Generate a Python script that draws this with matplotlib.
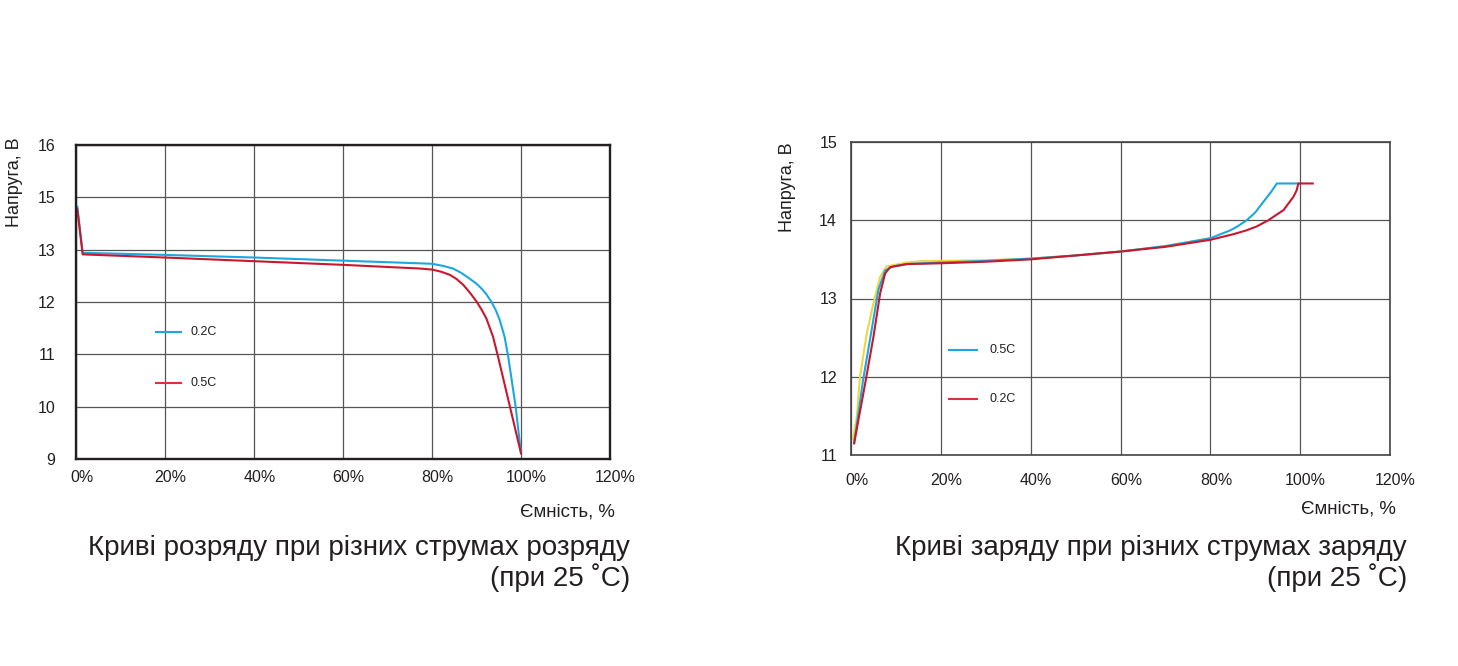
import matplotlib.pyplot as plt
from matplotlib.transforms import ScaledTranslation

plt.rcParams['font.family'] = ['Liberation Sans', 'DejaVu Sans']

# --- Дані: розряд (позиції на осі з мітками 9..16, без 14) ---
dis_ticks = [9, 10, 11, 12, 13, 14, 15]
dis_labels = ['9', '10', '11', '12', '13', '15', '16']

dis_cap_02 = [0.3, 1.5, 20, 40, 60, 77, 80, 82.5, 84.7, 86.5, 88.4, 90,
              91.1, 92.2, 93.3, 94.3, 95.2, 96.3, 97.1, 98.8, 100]
dis_v_02 = [13.82, 12.94, 12.90, 12.85, 12.79, 12.74, 12.73, 12.69, 12.64,
            12.56, 12.45, 12.35, 12.26, 12.15, 12.01, 11.85, 11.66, 11.34,
            10.97, 10.0, 9.11]

dis_cap_05 = [0.3, 1.5, 20, 40, 60, 77.2, 80, 82, 84, 85.5, 87, 88.5, 90,
              91.1, 92.2, 93.7, 94.8, 97.4, 100]
dis_v_05 = [13.77, 12.91, 12.85, 12.78, 12.71, 12.64, 12.62, 12.58, 12.52,
            12.44, 12.33, 12.18, 12.01, 11.86, 11.69, 11.34, 10.97, 10.04,
            9.11]

# --- Дані: заряд ---
ch_cap_y = [0.4, 1.3, 2.0, 3.5, 5.0, 6.5, 7.9, 12.4, 16.1, 20, 30, 40, 50,
            60, 70, 80]
ch_v_y = [11.2, 11.49, 12.0, 12.55, 12.94, 13.28, 13.41, 13.46, 13.48,
          13.48, 13.49, 13.51, 13.55, 13.6, 13.67, 13.77]

ch_cap_05 = [0.7, 2.7, 4.6, 6.1, 7.6, 9.4, 12.4, 20, 30, 40, 50, 60, 70, 80,
             84.4, 86, 88.1, 90, 92, 93.5, 94.8, 99.6]
ch_v_05 = [11.15, 11.96, 12.6, 13.11, 13.36, 13.41, 13.44, 13.46, 13.48,
           13.51, 13.55, 13.6, 13.67, 13.77, 13.87, 13.92, 14.0, 14.1, 14.25,
           14.36, 14.47, 14.47]

ch_cap_02 = [0.7, 3.3, 5.0, 6.5, 7.6, 8.7, 12.4, 20, 30, 40, 50, 60, 70, 80,
             85, 88, 90.3, 92.9, 96.3, 98.5, 99.2, 99.6, 102.8]
ch_v_02 = [11.15, 11.96, 12.51, 13.07, 13.32, 13.4, 13.44, 13.45, 13.47,
           13.5, 13.55, 13.6, 13.66, 13.75, 13.82, 13.87, 13.92, 14.0, 14.13,
           14.30, 14.38, 14.47, 14.47]

x_ticks = [0, 20, 40, 60, 80, 100, 120]
x_labels = ['0%', '20%', '40%', '60%', '80%', '100%', '120%']

BLUE = '#1ba8e0'
RED = '#c8182e'
RED_LEG = '#e2303a'
YELLOW = '#ecd744'
TXT = '#231f20'

W, H = 1458, 666
fig = plt.figure(figsize=(W / 100, H / 100), dpi=100)


def px_axes(l, t, r, b):
    return fig.add_axes([l / W, 1 - b / H, (r - l) / W, (b - t) / H])


def style(ax, frame_lw, frame_col, ypad, xpad):
    ax.set_xlim(0, 120)
    ax.set_xticks(x_ticks)
    ax.set_xticklabels(x_labels)
    ax.grid(True, color='#555555', lw=0.9)
    ax.set_axisbelow(True)
    ax.tick_params(length=0, labelsize=11.5, labelcolor=TXT)
    ax.tick_params(axis='y', pad=ypad)
    ax.tick_params(axis='x', pad=xpad)
    for sp in ax.spines.values():
        sp.set_linewidth(frame_lw)
        sp.set_color(frame_col)
    off = ScaledTranslation(4 / 72, 0, fig.dpi_scale_trans)
    for lab in ax.get_xticklabels():
        lab.set_transform(lab.get_transform() + off)


# Ліва діаграма — розряд
ax1 = px_axes(76, 145, 610, 459)
ax1.plot(dis_cap_02, dis_v_02, color=BLUE, lw=1.5)
ax1.plot(dis_cap_05, dis_v_05, color=RED, lw=1.5)
ax1.set_ylim(9, 15)
ax1.set_yticks(dis_ticks)
ax1.set_yticklabels(dis_labels)
style(ax1, 1.7, TXT, 15, 8)
ax1.plot([18, 23.5], [11.43, 11.43], color=BLUE, lw=1.5)
ax1.text(25.8, 11.43, '0.2C', fontsize=9, va='center', color=TXT)
ax1.plot([18, 23.5], [10.45, 10.45], color=RED_LEG, lw=1.5)
ax1.text(25.8, 10.45, '0.5C', fontsize=9, va='center', color=TXT)

# Права діаграма — заряд
ax2 = px_axes(851, 142, 1390, 455)
ax2.plot(ch_cap_y, ch_v_y, color=YELLOW, lw=1.5)
ax2.plot(ch_cap_05, ch_v_05, color=BLUE, lw=1.5)
ax2.plot(ch_cap_02, ch_v_02, color=RED, lw=1.5)
ax2.set_ylim(11, 15)
ax2.set_yticks([11, 12, 13, 14, 15])
style(ax2, 1.2, '#444444', 10, 13)
ax2.plot([21.8, 28], [12.34, 12.34], color=BLUE, lw=1.5)
ax2.text(30.8, 12.34, '0.5C', fontsize=9, va='center', color=TXT)
ax2.plot([21.8, 28], [11.72, 11.72], color=RED_LEG, lw=1.5)
ax2.text(30.8, 11.72, '0.2C', fontsize=9, va='center', color=TXT)

# Підписи
for x, y in [(15, 137), (787, 142)]:
    fig.text(x / W, 1 - y / H, 'Напруга, В', rotation=90, ha='center',
             va='top', fontsize=13, color=TXT)
for x, y in [(615, 512), (1396, 509)]:
    fig.text(x / W, 1 - y / H, 'Ємність, %', ha='right', va='center',
             fontsize=13.4, color=TXT)

titles = [(630, 'Криві розряду при різних струмах розряду'),
          (1407, 'Криві заряду при різних струмах заряду')]
for x, t in titles:
    fig.text(x / W, 1 - 548 / H, t, ha='right', va='center', fontsize=20,
             color=TXT)
    fig.text(x / W, 1 - 578 / H, '(при 25 ˚С)', ha='right', va='center',
             fontsize=20, color=TXT)

fig.savefig('out.png', dpi=100)
